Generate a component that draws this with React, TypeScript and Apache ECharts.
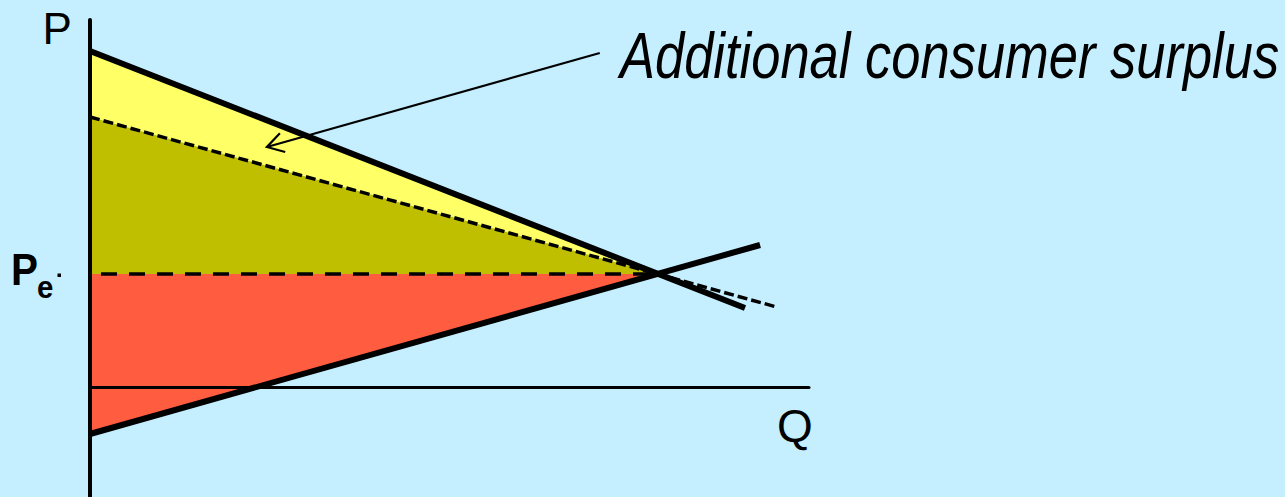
import React, { useEffect, useRef } from "react";
import * as echarts from "echarts";

// ---- data (P against Q, arbitrary units) ----
const qRange = [0, 100];
const pRange = [-11, 36.7];
const demandNew = [[0, 33.6], [91.1, 7.9]];
const demandOld = [[0, 27.0], [95.5, 8.0]];
const supply = [[0, -4.7], [93.2, 14.2]];
const equilibrium = [79, 11.3];
const priceStubStart = -2.4;
const arrowStart = [70.9, 33.4];
const arrowTip = [24.6, 24.0];
const labelP = "P";
const labelQ = "Q";
const labelPe = "P";
const labelPeSub = "e";
const noteText = "Additional consumer surplus";

const yellowArea = [demandNew[0], equilibrium, demandOld[0]];
const oliveArea = [demandOld[0], equilibrium, [0, equilibrium[1]]];
const redArea = [[0, equilibrium[1]], equilibrium, supply[0]];

const BG = "#C5EFFF";
const FONT = "'Liberation Sans', Arial, sans-serif";

function areaSeries(points: number[][], color: string) {
  return {
    type: "custom",
    coordinateSystem: "cartesian2d",
    data: [[0, 0]],
    silent: true,
    z: 1,
    renderItem: (_p: any, api: any) => ({
      type: "polygon",
      shape: { points: points.map((pt) => api.coord(pt)) },
      style: { fill: color, stroke: null },
    }),
  };
}

function lineSeries(data: number[][], width: number, type: any, z = 4, dashOffset = 0) {
  return {
    type: "line",
    data,
    symbol: "none",
    clip: false,
    silent: true,
    z,
    lineStyle: { color: "#000", width, type, cap: "butt", dashOffset },
  };
}

export default function App() {
  const ref = useRef<HTMLDivElement>(null);
  useEffect(() => {
    if (!ref.current) return;
    const chart = echarts.init(ref.current, undefined, { renderer: "svg" });
    const option: any = {
      animation: false,
      backgroundColor: BG,
      grid: { left: 90, right: 476, top: 20, bottom: 0, containLabel: false },
      xAxis: {
        type: "value",
        min: qRange[0],
        max: qRange[1],
        z: 3,
        axisLine: { show: true, onZero: true, lineStyle: { color: "#000", width: 3 } },
        axisTick: { show: false },
        axisLabel: { show: false },
        splitLine: { show: false },
      },
      yAxis: {
        type: "value",
        min: pRange[0],
        max: pRange[1],
        z: 3,
        axisLine: { show: true, onZero: true, lineStyle: { color: "#000", width: 4 } },
        axisTick: { show: false },
        axisLabel: { show: false },
        splitLine: { show: false },
      },
      series: [
        areaSeries(yellowArea, "#FFFF66"),
        areaSeries(oliveArea, "#BFBF00"),
        areaSeries(redArea, "#FF5C40"),
        lineSeries(demandOld, 3.5, [10, 4]),
        lineSeries([[0, equilibrium[1]], equilibrium], 3.5, [16, 12], 4, 17),
        lineSeries([[priceStubStart, equilibrium[1]], [0, equilibrium[1]]], 3.5, "solid"),
        lineSeries(demandNew, 6, "solid", 5),
        lineSeries(supply, 6, "solid", 5),
        {
          type: "custom",
          coordinateSystem: "cartesian2d",
          data: [[0, 0]],
          silent: true,
          z: 6,
          renderItem: (_p: any, api: any) => {
            const s = api.coord(arrowStart);
            const t = api.coord(arrowTip);
            const dx = s[0] - t[0];
            const dy = s[1] - t[1];
            const len = Math.hypot(dx, dy);
            const ux = dx / len;
            const uy = dy / len;
            const L = 19;
            const a = (31 * Math.PI) / 180;
            const rot = (ang: number) => [
              t[0] + L * (ux * Math.cos(ang) - uy * Math.sin(ang)),
              t[1] + L * (ux * Math.sin(ang) + uy * Math.cos(ang)),
            ];
            return {
              type: "group",
              children: [
                {
                  type: "line",
                  shape: { x1: s[0], y1: s[1], x2: t[0], y2: t[1] },
                  style: { stroke: "#000", lineWidth: 2.2 },
                },
                {
                  type: "polyline",
                  shape: { points: [rot(a), t, rot(-a)] },
                  style: { stroke: "#000", lineWidth: 2.2, fill: null },
                },
              ],
            };
          },
        },
      ],
      graphic: [
        {
          type: "text",
          x: 42.5,
          y: 28.8,
          style: { text: labelP, font: `44px ${FONT}`, fill: "#000", textAlign: "left", textVerticalAlign: "middle" },
        },
        {
          type: "text",
          x: 777,
          y: 426,
          style: { text: labelQ, font: `46px ${FONT}`, fill: "#000", textAlign: "left", textVerticalAlign: "middle" },
        },
        {
          type: "text",
          x: 11,
          y: 270,
          scaleX: 0.92,
          style: { text: labelPe, font: `bold 44px ${FONT}`, fill: "#000", textAlign: "left", textVerticalAlign: "middle" },
        },
        {
          type: "text",
          x: 37,
          y: 287,
          scaleX: 0.92,
          style: { text: labelPeSub, font: `bold 32px ${FONT}`, fill: "#000", textAlign: "left", textVerticalAlign: "middle" },
        },
        {
          type: "rect",
          shape: { x: 57.5, y: 273.5, width: 3.5, height: 3.5 },
          style: { fill: "#000" },
        },
        {
          type: "text",
          x: 620,
          y: 55.8,
          scaleX: 0.82,
          style: { text: noteText, font: `italic 64px ${FONT}`, fill: "#000", textAlign: "left", textVerticalAlign: "middle" },
        },
      ],
    };
    chart.setOption(option);
    return () => chart.dispose();
  }, []);
  return (
    <div
      ref={ref}
      style={{ position: "absolute", left: 0, top: 0, width: 1285, height: 497, background: BG }}
    />
  );
}
